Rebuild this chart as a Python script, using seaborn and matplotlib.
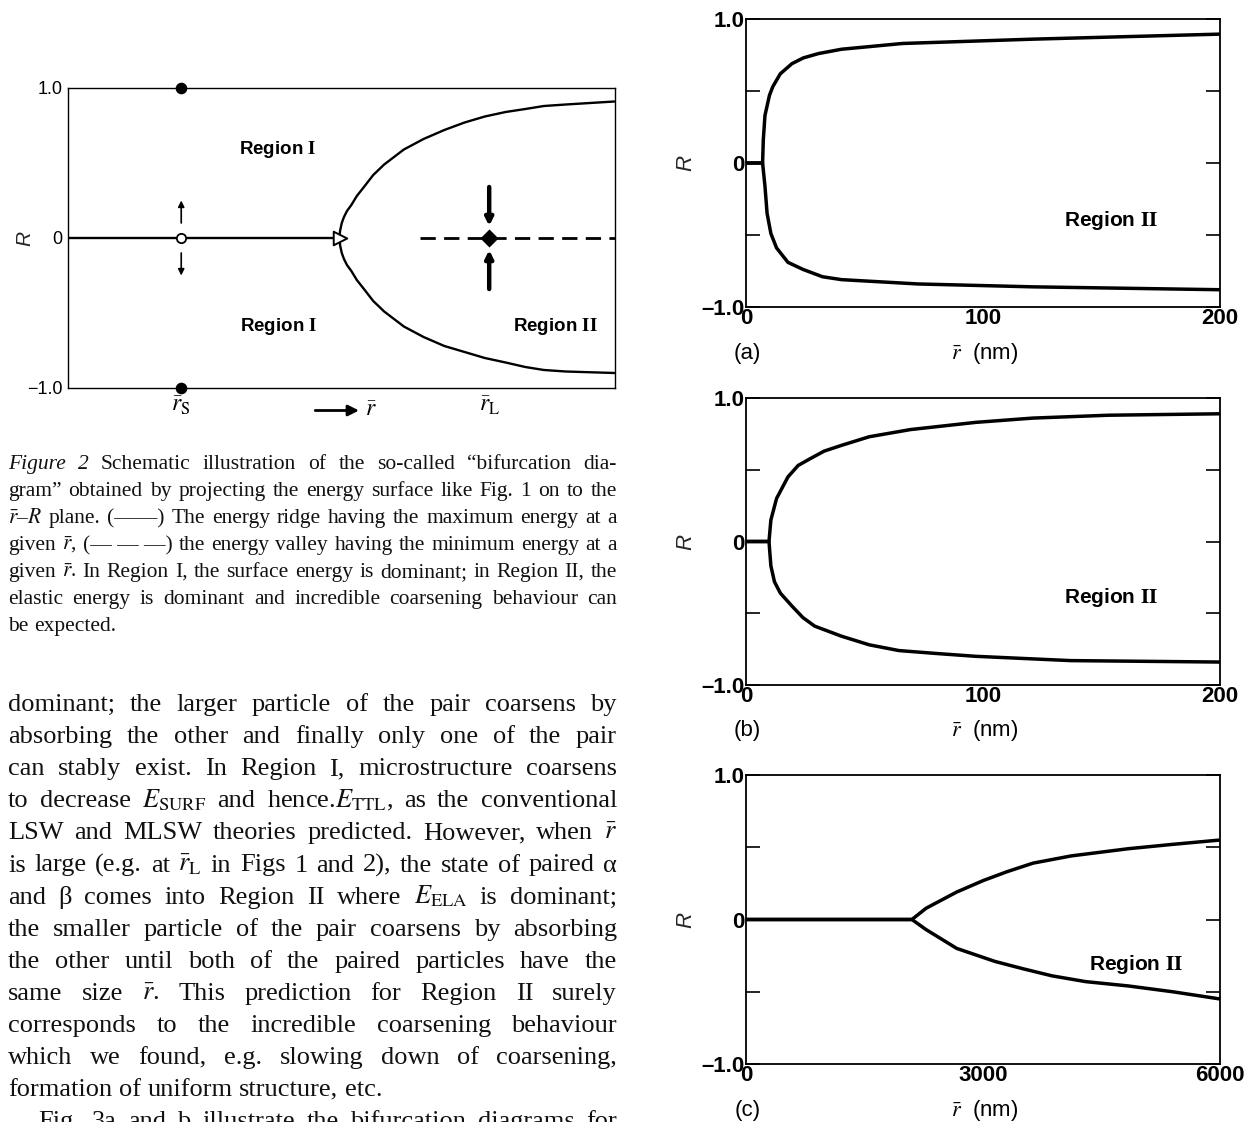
import matplotlib
matplotlib.use("Agg")
import matplotlib.pyplot as plt
import seaborn as sns

# ---------------- data ----------------
# Fig. 2 schematic bifurcation diagram (dimensionless r axis 0..1)
sch_ridge_x = [0.0, 0.496]
sch_ridge_R = [0.0, 0.0]
sch_upper_x = [0.496, 0.4975, 0.5005, 0.5045, 0.510, 0.518, 0.528, 0.541, 0.558, 0.578, 0.614, 0.650,
               0.688, 0.725, 0.762, 0.800, 0.836, 0.870, 0.910, 0.999]
sch_upper_R = [0.0, 0.05, 0.10, 0.14, 0.18, 0.22, 0.28, 0.34, 0.42, 0.49, 0.59, 0.66,
               0.72, 0.77, 0.81, 0.84, 0.86, 0.88, 0.89, 0.91]
sch_lower_x = [0.496, 0.4975, 0.5005, 0.5045, 0.510, 0.518, 0.528, 0.541, 0.558, 0.578, 0.614, 0.650,
               0.688, 0.725, 0.762, 0.800, 0.836, 0.870, 0.910, 0.999]
sch_lower_R = [0.0, -0.05, -0.10, -0.14, -0.18, -0.22, -0.28, -0.34, -0.42, -0.49, -0.59, -0.66,
               -0.72, -0.76, -0.80, -0.83, -0.86, -0.88, -0.89, -0.90]
sch_valley_x = [0.644, 1.0]
sch_valley_R = [0.0, 0.0]
sch_rs = 0.207
sch_rl = 0.770
sch_bif = 0.497
sch_xtick_labels = ["$\\bar{r}_{\\mathrm{S}}$", "$\\bar{r}_{\\mathrm{L}}$"]
sch_ytick_labels = ["\u22121.0", "0", "1.0"]

# Fig. 3 (a)
a_up_r = [0, 7, 7.3, 8.0, 9.9, 11.3, 14.5, 19.4, 24.2, 30.6, 40.3, 66, 121, 200]
a_up_R = [0, 0, 0.16, 0.33, 0.47, 0.53, 0.62, 0.69, 0.73, 0.76, 0.79, 0.83, 0.86, 0.895]
a_lo_r = [0, 7, 7.5, 8.0, 8.9, 10.5, 12.9, 17.7, 24.2, 32.3, 40.3, 72.6, 121, 200]
a_lo_R = [0, 0, -0.08, -0.16, -0.35, -0.49, -0.59, -0.69, -0.74, -0.79, -0.81, -0.84, -0.86, -0.88]
# Fig. 3 (b)
b_up_r = [0, 9.7, 10.5, 12.9, 17.7, 22.0, 27.4, 33.0, 40.3, 52.0, 69.4, 96.8, 121, 153, 200]
b_up_R = [0, 0, 0.15, 0.30, 0.45, 0.53, 0.58, 0.63, 0.67, 0.73, 0.78, 0.83, 0.86, 0.88, 0.89]
b_lo_r = [0, 9.7, 10.5, 12.0, 14.5, 19.4, 24.0, 29.0, 40.3, 52.0, 64.5, 80.0, 96.8, 137, 200]
b_lo_R = [0, 0, -0.17, -0.28, -0.36, -0.45, -0.53, -0.59, -0.66, -0.72, -0.76, -0.78, -0.80, -0.83, -0.84]
# Fig. 3 (c)
c_up_r = [0, 2100, 2280, 2667, 3005, 3300, 3633, 4116, 4841, 5400, 6000]
c_up_R = [0, 0, 0.078, 0.19, 0.27, 0.33, 0.39, 0.44, 0.49, 0.52, 0.55]
c_lo_r = [0, 2100, 2280, 2667, 3150, 3500, 3874, 4300, 4841, 5400, 6000]
c_lo_R = [0, 0, -0.07, -0.20, -0.29, -0.34, -0.39, -0.43, -0.46, -0.50, -0.55]

panel_ytick_labels = ["\u20131.0", "", "0", "", "1.0"]

caption_lines = [
    ("\u00a7Figure \u00a72 Schematic illustration of the so-called \u201cbifurcation dia-", True, 0),
    ("gram\u201d obtained by projecting the energy surface like Fig. 1 on to the", True, 0),
    ("$\\bar{r}$\u2013$R$ plane. (\u2014\u2014) The energy ridge having the maximum energy at a", True, 0),
    ("given $\\bar{r}$, (\u2014\u00a0\u2014\u00a0\u2014) the energy valley having the minimum energy at a", True, 0),
    ("given $\\bar{r}$. In Region I, the surface energy is dominant; in Region II, the", True, 0),
    ("elastic energy is dominant and incredible coarsening behaviour can", True, 0),
    ("be expected.", False, 0),
]
body_lines = [
    ("dominant; the larger particle of the pair coarsens by", True, 0),
    ("absorbing the other and finally only one of the pair", True, 0),
    ("can stably exist. In Region I, microstructure coarsens", True, 0),
    ("to decrease $E_{\\mathrm{SURF}}$ and hence.$E_{\\mathrm{TTL}}$, as the conventional", True, 0),
    ("LSW and MLSW theories predicted. However, when $\\bar{r}$", True, 0),
    ("is large (e.g. at $\\bar{r}_{\\mathrm{L}}$ in Figs 1 and 2), the state of paired \u03b1", True, 0),
    ("and \u03b2 comes into Region II where $E_{\\mathrm{ELA}}$ is dominant;", True, 0),
    ("the smaller particle of the pair coarsens by absorbing", True, 0),
    ("the other until both of the paired particles have the", True, 0),
    ("same size $\\bar{r}$. This prediction for Region II surely", True, 0),
    ("corresponds to the incredible coarsening behaviour", True, 0),
    ("which we found, e.g. slowing down of coarsening,", True, 0),
    ("formation of uniform structure, etc.", False, 0),
    ("Fig. 3a and b illustrate the bifurcation diagrams for", True, 30),
]

# ---------------- style ----------------
sns.set_theme(style="white")
plt.rcParams["font.family"] = ["Liberation Sans", "DejaVu Sans"]
plt.rcParams["mathtext.fontset"] = "stix"
plt.rcParams["axes.edgecolor"] = "black"
plt.rcParams["xtick.color"] = "black"
plt.rcParams["ytick.color"] = "black"
plt.rcParams["text.color"] = "black"
SERIF = ["Liberation Serif", "DejaVu Serif"]

W, H = 1252, 1122
fig = plt.figure(figsize=(W / 100, H / 100), dpi=100)
fig.patch.set_facecolor("white")


def ax_px(l, t, r, b):
    return fig.add_axes([l / W, 1 - b / H, (r - l) / W, (b - t) / H])


# ---------------- schematic ----------------
ax0 = ax_px(68, 88, 615, 388)
lw0 = 1.7
sns.lineplot(x=sch_ridge_x, y=sch_ridge_R, ax=ax0, color="black", linewidth=lw0, sort=False, estimator=None)
sns.lineplot(x=sch_upper_x, y=sch_upper_R, ax=ax0, color="black", linewidth=lw0, sort=False, estimator=None)
sns.lineplot(x=sch_lower_x, y=sch_lower_R, ax=ax0, color="black", linewidth=lw0, sort=False, estimator=None)
sns.lineplot(x=sch_valley_x, y=sch_valley_R, ax=ax0, color="black", linewidth=2.0, sort=False,
             estimator=None, linestyle=(0, (5.5, 3.0)))
sns.scatterplot(x=[sch_rs, sch_rs], y=[1.0, -1.0], ax=ax0, s=70, color="black", marker="o",
                linewidth=0, zorder=6, clip_on=False, legend=False)
sns.scatterplot(x=[sch_rs], y=[0.0], ax=ax0, s=45, color="white", edgecolor="black", marker="o",
                linewidth=1.3, zorder=6, legend=False)
sns.scatterplot(x=[sch_bif], y=[0.0], ax=ax0, s=95, color="white", edgecolor="black", marker=">",
                linewidth=1.4, zorder=6, legend=False)
sns.scatterplot(x=[sch_rl], y=[0.0], ax=ax0, s=85, color="black", marker="D",
                linewidth=0, zorder=6, legend=False)
# stability arrows
for y0, y1 in [(0.10, 0.25), (-0.10, -0.25)]:
    ax0.annotate("", xy=(sch_rs, y1), xytext=(sch_rs, y0),
                 arrowprops=dict(arrowstyle="-|>", color="black", lw=1.2, mutation_scale=9,
                                 shrinkA=0, shrinkB=0))
for y0, y1 in [(0.34, 0.08), (-0.34, -0.08)]:
    ax0.annotate("", xy=(sch_rl, y1), xytext=(sch_rl, y0),
                 arrowprops=dict(arrowstyle="-|>", color="black", lw=3.2, mutation_scale=11,
                                 shrinkA=0, shrinkB=0))
ax0.set_xlim(0, 1)
ax0.set_ylim(-1, 1)
ax0.set_xticks([sch_rs, sch_rl])
ax0.set_xticklabels(sch_xtick_labels, fontsize=17)
ax0.set_yticks([-1, 0, 1])
ax0.set_yticklabels(sch_ytick_labels, fontsize=13)
ax0.tick_params(axis="x", direction="in", length=8, width=1.0, pad=5)
ax0.tick_params(axis="y", length=0, pad=4)
for s in ax0.spines.values():
    s.set_linewidth(1.0)
ax0.set_ylabel("R", fontsize=15, style="italic", rotation=90)
ax0.yaxis.set_label_coords(-0.062, 0.5)
ax0.text(0.384, 0.59, "Region $\\mathbf{I}$", fontsize=13.5, fontweight="bold", ha="center", va="center")
ax0.text(0.385, -0.59, "Region $\\mathbf{I}$", fontsize=13.5, fontweight="bold", ha="center", va="center")
ax0.text(0.892, -0.59, "Region $\\mathbf{II}$", fontsize=13.5, fontweight="bold", ha="center", va="center")
ax0.annotate("", xy=(0.532, -0.075), xytext=(0.452, -0.075), xycoords="axes fraction",
             arrowprops=dict(arrowstyle="-|>", color="black", lw=2.0, mutation_scale=16,
                             shrinkA=0, shrinkB=0), annotation_clip=False)
ax0.text(0.553, -0.075, "$\\bar{r}$", fontsize=17, transform=ax0.transAxes, ha="center", va="center")


# ---------------- Fig. 3 panels ----------------
def panel(ax, ur, uR, lr, lR, xmax, majors, major_labels, minors, tag, region_xy):
    sns.lineplot(x=ur, y=uR, ax=ax, color="black", linewidth=2.5, sort=False, estimator=None)
    sns.lineplot(x=lr, y=lR, ax=ax, color="black", linewidth=2.5, sort=False, estimator=None)
    ax.set_xlim(0, xmax)
    ax.set_ylim(-1, 1)
    ax.set_xticks(majors)
    ax.set_xticklabels(major_labels, fontsize=16, fontweight="bold")
    ax.set_xticks(minors, minor=True)
    ax.tick_params(axis="x", which="major", direction="in", length=13, width=1.2, pad=1)
    ax.tick_params(axis="x", which="minor", direction="in", length=8, width=1.2)
    ax.set_yticks([-1, -0.5, 0, 0.5, 1])
    ax.set_yticklabels(panel_ytick_labels, fontsize=16, fontweight="bold")
    ax.tick_params(axis="y", direction="in", length=10, width=1.2, pad=1, left=True, right=True)
    for s in ax.spines.values():
        s.set_linewidth(1.3)
    ax.set_ylabel("R", fontsize=16, style="italic", rotation=90)
    ax.yaxis.set_label_coords(-0.105, 0.5)
    ax.text(0.003, -0.16, tag, fontsize=16, transform=ax.transAxes, ha="center", va="center")
    ax.text(0.504, -0.16, "$\\bar{r}$  (nm)", fontsize=16, transform=ax.transAxes, ha="center", va="center")
    ax.text(region_xy[0], region_xy[1], "Region $\\mathbf{II}$", fontsize=15, fontweight="bold",
            ha="center", va="center")


axa = ax_px(746, 19, 1220, 307)
panel(axa, a_up_r, a_up_R, a_lo_r, a_lo_R, 200, [0, 100, 200], ["0", "100", "200"],
      list(range(10, 200, 10)), "(a)", (154, -0.40))
axb = ax_px(746, 398, 1220, 685)
panel(axb, b_up_r, b_up_R, b_lo_r, b_lo_R, 200, [0, 100, 200], ["0", "100", "200"],
      list(range(10, 200, 10)), "(b)", (154, -0.39))
axc = ax_px(746, 775, 1220, 1064)
panel(axc, c_up_r, c_up_R, c_lo_r, c_lo_R, 6000, [0, 3000, 6000], ["0", "3000", "6000"],
      [1000, 2000, 4000, 5000], "(c)", (4940, -0.31))


# ---------------- text blocks (justified) ----------------
renderer = fig.canvas.get_renderer()


def space_width(size):
    p1 = fig.text(0, 0, "x x", fontsize=size, family=SERIF)
    p2 = fig.text(0, 0, "xx", fontsize=size, family=SERIF)
    sp = p1.get_window_extent(renderer).width - p2.get_window_extent(renderer).width
    p1.remove()
    p2.remove()
    return sp


def set_line(words, y, size):
    objs = []
    for w in words:
        style = "normal"
        if w.startswith("\u00a7"):
            style = "italic"
            w = w[1:]
        objs.append(fig.text(0, y, w, fontsize=size, family=SERIF, style=style,
                             va="baseline", ha="left", color="#111111"))
    widths = [o.get_window_extent(renderer).width for o in objs]
    return objs, widths


def text_block(lines, x0, x1, base0, dy, size):
    for i, (line, justify, indent) in enumerate(lines):
        y = 1 - (base0 + i * dy) / H
        words = line.split(" ")
        start = x0 + indent
        sz = size
        while True:
            sp = space_width(sz)
            objs, widths = set_line(words, y, sz)
            if justify and len(objs) > 1:
                gap = (x1 - start - sum(widths)) / (len(objs) - 1)
            else:
                gap = sp
            if gap >= 0.7 * sp or sz <= size - 3:
                break
            for o in objs:
                o.remove()
            sz -= 0.25
        x = start
        for o, wd in zip(objs, widths):
            o.set_x(x / W)
            x += wd + gap


text_block(caption_lines, 8, 617, 469, 27.0, 15.5)
text_block(body_lines, 8, 617, 711, 32.1, 19.0)

fig.savefig("out.png", dpi=100, facecolor="white")
